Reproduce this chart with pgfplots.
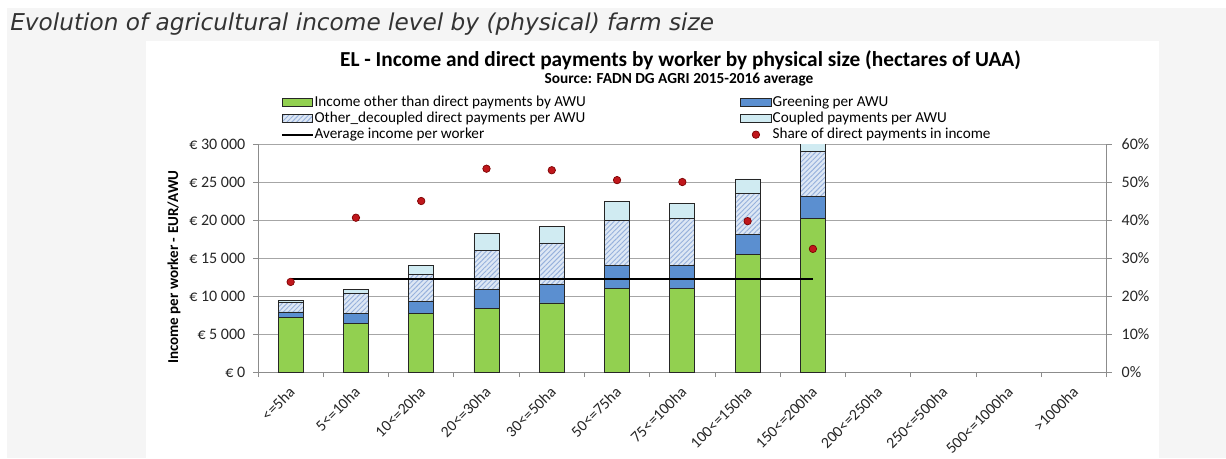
\documentclass[border=0pt]{standalone}
\usepackage{pgfplots}
\pgfplotsset{compat=1.18}
\usepackage{pgfplotstable}
\usepackage{fontspec}
\setmainfont{Carlito}
\newfontfamily\headfont{DejaVu Sans}
\usetikzlibrary{patterns.meta}
\definecolor{bggray}{HTML}{F5F5F5}
\definecolor{cgreen}{HTML}{92D050}
\definecolor{cblue}{HTML}{5B8FD0}
\definecolor{chatch}{HTML}{DDE7F4}
\definecolor{chatchline}{HTML}{97B1DC}
\definecolor{ccoupled}{HTML}{D0EBF2}
\definecolor{cred}{HTML}{C0171C}
\definecolor{cdred}{HTML}{7A0000}
\definecolor{gridgray}{HTML}{A6A6A6}
\definecolor{axgray}{HTML}{8C8C8C}

\pgfplotstableread{
x green greening other coupled share
0 7160 740 1310 220 23.7
1 6370 1350 2590 530 40.6
2 7680 1620 3550 1190 45.0
3 8420 2460 5130 2200 53.5
4 9080 2460 5440 2230 53.1
5 11050 2950 5920 2500 50.5
6 11050 2990 6220 1900 50.0
7 15450 2630 5430 1890 39.7
8 20180 2890 5930 1200 32.4
}\datatable

\pgfplotsset{
  base/.style={
    at={(193.5pt,64.5pt)}, anchor=south west, scale only axis,
    width=636.5pt, height=171pt,
    xmin=-0.5, xmax=12.5,
    scaled y ticks=false,
    tick align=outside, major tick length=3.75pt,
    tick style={draw=axgray, line width=0.6pt},
    axis line style={-, draw=axgray, line width=0.6pt},
    ticklabel style={font=\fontsize{12}{14}\selectfont, text=black!85},
  },
  boxlegend/.style={legend image code/.code={\draw[##1] (0pt,-3pt) rectangle (23pt,3pt);}},
  lineleg/.style={legend image code/.code={\draw[##1] (0pt,0pt) -- (23pt,0pt);}},
  dotleg/.style={legend image code/.code={\path[draw=none,fill=none] (0pt,0pt) -- (23pt,0pt); \draw[##1] plot coordinates {(11.5pt,0pt)};}},
}

\begin{document}
\begin{tikzpicture}
\path[use as bounding box] (0,0) rectangle (919.5pt,343.5pt);
\fill[white] (0,0) rectangle (919.5pt,343.5pt);
\fill[bggray] (5.25pt,0) rectangle (919.5pt,337.5pt);
\fill[white] (109.5pt,0) rectangle (869.25pt,312.75pt);
\node[anchor=west, inner sep=0pt, text=black!80, font=\headfont\itshape\fontsize{17.4}{20}\selectfont] at (7.5pt,325.5pt) {Evolution of agricultural income level by (physical) farm size};
\node[inner sep=0pt, font=\bfseries\fontsize{16}{18}\selectfont] at (510.4pt,298.5pt) {EL - Income and direct payments by worker by physical size (hectares of UAA)};
\node[inner sep=0pt, font=\bfseries\fontsize{11.5}{13}\selectfont] at (509.25pt,283.5pt) {Source: FADN DG AGRI 2015-2016 average};

\begin{axis}[base,
  ybar stacked, bar width=18.75pt,
  ymin=0, ymax=30000,
  axis x line*=bottom, axis y line*=left,
  ymajorgrids, grid style={draw=gridgray, line width=0.6pt},
  ytick={0,5000,...,30000},
  yticklabels={€ 0,€ 5 000,€ 10 000,€ 15 000,€ 20 000,€ 25 000,€ 30 000},
  yticklabel style={xshift=-2.25pt},
  xtick={-0.5,0.5,...,12.5}, x tick label as interval,
  xticklabels={<=5ha,5<=10ha,10<=20ha,20<=30ha,30<=50ha,50<=75ha,75<=100ha,100<=150ha,150<=200ha,200<=250ha,250<=500ha,500<=1000ha,>1000ha},
  x tick label style={rotate=45, anchor=north east, inner sep=0pt, xshift=-5.7pt, yshift=-2.9pt, font=\fontsize{11.8}{14}\selectfont},
  ylabel={Income per worker - EUR/AWU},
  ylabel style={at={(axis description cs:-0.099,0.46)}, anchor=center, font=\bfseries\fontsize{11.3}{13}\selectfont},
  legend columns=2,
  legend cell align=left,
  legend style={at={(axis description cs:0.0267,1.219)}, anchor=north west, draw=none, fill=none, inner sep=0pt,
    font=\fontsize{11.4}{13}\selectfont, row sep=0pt,
    nodes={inner sep=0.8pt, text height=8pt, text depth=2.5pt},
    /tikz/every even column/.append style={column sep=115pt}},
]
\addplot[boxlegend, fill=cgreen, draw=black!85, line width=0.6pt] table[x=x, y=green] {\datatable};
\addlegendentry{Income other than direct payments by AWU}
\addplot[boxlegend, fill=cblue, draw=black!85, line width=0.6pt] table[x=x, y=greening] {\datatable};
\addlegendentry{Greening per AWU}
\addplot[boxlegend, fill=chatch, draw=black!85, line width=0.6pt, postaction={pattern={Lines[angle=45, distance=2.6pt, line width=0.7pt]}, pattern color=chatchline}] table[x=x, y=other] {\datatable};
\addlegendentry{Other\_decoupled direct payments per AWU}
\addplot[boxlegend, fill=ccoupled, draw=black!85, line width=0.6pt] table[x=x, y=coupled] {\datatable};
\addlegendentry{Coupled payments per AWU}
\addlegendimage{lineleg, black, line width=1.5pt}
\addlegendentry{Average income per worker}
\addlegendimage{dotleg, only marks, mark=*, mark size=2.8pt, mark options={fill=cred, draw=cdred, line width=0.5pt}}
\addlegendentry{Share of direct payments in income}
\end{axis}

\begin{axis}[base, hide axis, ymin=0, ymax=30000]
\addplot[black, line width=1.5pt] coordinates {(0,12300) (8,12300)};
\end{axis}

\begin{axis}[base, ymin=0, ymax=60,
  axis x line=none, axis y line*=right,
  ytick={0,10,...,60},
  yticklabels={0\%,10\%,20\%,30\%,40\%,50\%,60\%},
  yticklabel style={xshift=4pt},
]
\addplot[only marks, mark=*, mark size=2.8pt, mark options={fill=cred, draw=cdred, line width=0.5pt}] table[x=x, y=share] {\datatable};
\end{axis}
\end{tikzpicture}
\end{document}
